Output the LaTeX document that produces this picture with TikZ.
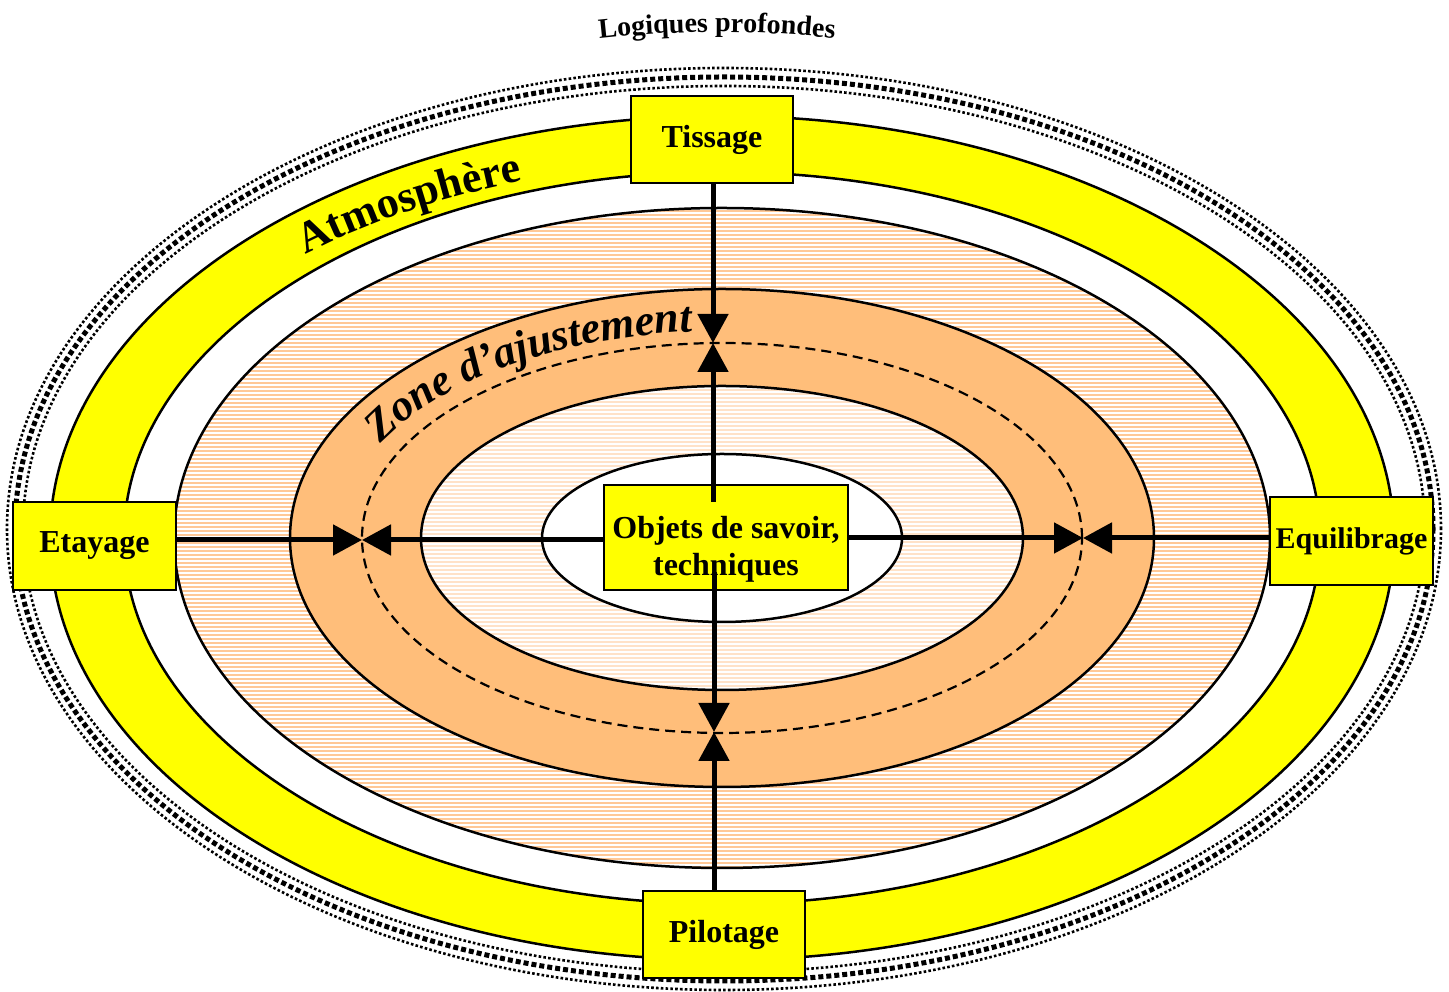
\documentclass[tikz,border=0pt]{standalone}
\usepackage{fontspec}
\setmainfont{Liberation Serif}
\usetikzlibrary{arrows.meta,decorations.text}
\definecolor{yel}{RGB}{255,255,0}
\definecolor{peach}{RGB}{255,200,150}
\definecolor{peachlight}{RGB}{255,226,200}
\definecolor{orng}{RGB}{255,190,122}
\newcommand\atmf{\bfseries\fontsize{44}{44}\selectfont}
\newcommand\zonef{\bfseries\itshape\fontsize{44}{44}\selectfont}
\newcommand\logf{\bfseries\fontsize{28}{28}\selectfont}
\tikzset{
  box/.style={draw=black, line width=2.5pt, fill=yel, font=\bfseries\fontsize{32}{37}\selectfont, inner sep=0pt, align=center},
  boxtext/.style={font=\bfseries\fontsize{32}{37}\selectfont, inner sep=0pt, align=center},
  ring/.style={draw=black, line width=2.5pt},
  stripe/.style={white, line width=1.2pt},
  arr/.style={line width=5pt, -{Triangle[width=30pt,length=29pt]}},
  dotsmall/.style={line width=2.6pt, dash pattern=on 2.6pt off 2.2pt},
  dotbig/.style={line width=5pt, dash pattern=on 5pt off 3pt},
  dashring/.style={line width=2.2pt, dash pattern=on 10pt off 6pt},
}
\begin{document}
\begin{tikzpicture}[x=1pt,y=1pt]
\useasboundingbox (0,0) rectangle (1449,992);
\coordinate (C) at (722,454);
% outer dotted frame
\draw[dotsmall] (724,463) ellipse[x radius=717pt,y radius=461pt];
\draw[dotbig] (724,463) ellipse[x radius=709pt,y radius=452pt];
\draw[dotsmall] (724,463) ellipse[x radius=701pt,y radius=443pt];
% yellow ring
\draw[ring, fill=yel] (C) ellipse[x radius=672pt,y radius=422pt];
\draw[ring, fill=white] (C) ellipse[x radius=598pt,y radius=366pt];
% big striped ellipse
\fill[peach] (C) ellipse[x radius=548pt,y radius=330pt];
\begin{scope}
  \clip (C) ellipse[x radius=548pt,y radius=330pt];
  \foreach \k in {0,...,166} \draw[stripe] (170,123+4*\k) -- (1280,123+4*\k);
\end{scope}
\draw[ring] (C) ellipse[x radius=548pt,y radius=330pt];
% orange ring
\draw[ring, fill=orng] (C) ellipse[x radius=432pt,y radius=249pt];
% dashed ellipse
\draw[dashring] (C) ellipse[x radius=360pt,y radius=195pt];
% inner striped ellipse
\fill[peachlight] (C) ellipse[x radius=301pt,y radius=152pt];
\begin{scope}
  \clip (C) ellipse[x radius=301pt,y radius=152pt];
  \foreach \k in {0,...,77} \draw[stripe] (415,300+4*\k) -- (1030,300+4*\k);
\end{scope}
\draw[ring] (C) ellipse[x radius=301pt,y radius=152pt];
% white centre
\draw[ring, fill=white] (C) ellipse[x radius=180pt,y radius=84pt];
% curved texts
\path[decorate, decoration={text along path, text align=center,
  text={|\logf|Logiques profondes}}]
  (717,-107) ++(97.5:1067pt) arc[start angle=97.5, end angle=82.5, radius=1067pt];
\path[decorate, decoration={text along path, text align=left,
  text={|\atmf|Atmosphère}}]
  (C) ++(131:635pt and 376pt) arc[start angle=131, end angle=95, x radius=635pt, y radius=376pt];
\path[decorate, decoration={text along path, text align=left,
  text={|\zonef|Zone d'ajustement}}]
  (722,455) ++(153:383pt and 206pt) arc[start angle=153, end angle=80, x radius=383pt, y radius=206pt];
% boxes
\node[box, minimum width=162pt, minimum height=87pt] (tissage) at (712,852.5) {Tissage};
\node[box, minimum width=163pt, minimum height=88pt] (etayage) at (94.5,446) {Etayage};
\node[box, minimum width=163pt, minimum height=88pt, font=\bfseries\fontsize{30}{37}\selectfont] (equilibrage) at (1351.5,451) {Equilibrage};
\node[box, minimum width=162pt, minimum height=87pt] (pilotage) at (724,57.5) {Pilotage};
\node[box, minimum width=244pt, minimum height=105pt] (objets) at (726,454.5) {};
\node[boxtext] (objetsT) at (726,443) {Objets de savoir,\\techniques};
% arrows
\coordinate (tipT) at (713,649);
\coordinate (tipB) at (714,260);
\coordinate (tipL) at (362,452);
\coordinate (tipR) at (1083,454);
\coordinate (oT) at (713,490);
\coordinate (oB) at (714,420);
\draw[arr] (tissage.south -| tipT) -- (tipT);
\draw[arr] (oT) -- (tipT);
\draw[arr] (oB) -- (tipB);
\draw[arr] (pilotage.north -| tipB) -- (tipB);
\draw[arr] (etayage.east |- tipL) -- (tipL);
\draw[arr] (objets.west |- tipL) -- (tipL);
\draw[arr] (objets.east |- tipR) -- (tipR);
\draw[arr] (equilibrage.west |- tipR) -- (tipR);
\end{tikzpicture}
\end{document}
